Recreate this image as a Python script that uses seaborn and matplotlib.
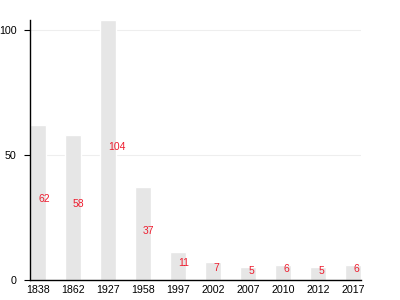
import matplotlib
matplotlib.use("Agg")
import matplotlib.pyplot as plt
import seaborn as sns
import pandas as pd

years = ["1838", "1862", "1927", "1958", "1997", "2002", "2007", "2010", "2012", "2017"]
values = [62, 58, 104, 37, 11, 7, 5, 6, 5, 6]

sns.set_style("white")
plt.rcParams['font.family'] = ['Liberation Sans', 'DejaVu Sans']

df = pd.DataFrame({"year": years, "value": values})

fig = plt.figure(figsize=(4, 3), dpi=100)
ax = fig.add_axes([0.075, 0.067, 0.828, 0.867])
sns.barplot(data=df, x="year", y="value", color="#e6e6e6", saturation=1, width=0.46, ax=ax)

for i, v in enumerate(values):
    ax.text(i, v / 2, str(v), color="#ee1c2e", fontsize=7.5, ha="left", va="baseline")

ax.set_xlim(-0.23, 9.23)
ax.set_ylim(0, 104)
ax.set_yticks([0, 50, 100])
ax.yaxis.grid(True, color="#eeeeee", linewidth=0.8)
ax.set_axisbelow(True)
ax.set_xlabel("")
ax.set_ylabel("")
for s in ["top", "right"]:
    ax.spines[s].set_visible(False)
for s in ["left", "bottom"]:
    ax.spines[s].set_color("black")
    ax.spines[s].set_linewidth(1)
ax.tick_params(axis="x", length=0, labelsize=7.7, pad=4, labelcolor="black")
ax.tick_params(axis="y", length=4.5, width=0.8, labelsize=7.7, left=True, pad=5,
               color="black", labelcolor="black")

fig.savefig("out.png", dpi=100)
